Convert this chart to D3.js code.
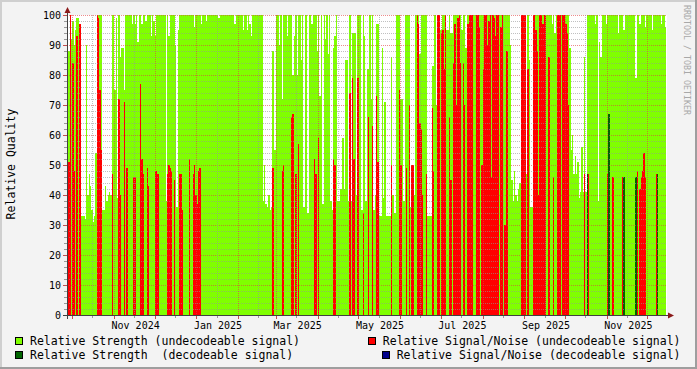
<!DOCTYPE html>
<html>
<head>
<meta charset="utf-8">
<script src="https://cdnjs.cloudflare.com/ajax/libs/d3/7.8.5/d3.min.js"></script>
<style>
  body { margin: 0; background: #f3f3f3; }
  svg { display: block; }
  text { font-family: "DejaVu Sans Mono", monospace; fill: #000; }
</style>
</head>
<body>
<script>
// one value per day from firstDay on, 0 = nothing recorded that day
const firstDay = new Date(Date.UTC(2024, 8, 27, 4));
const lastTime = new Date(Date.UTC(2025, 11, 15, 14, 40));

const strengthUndecodeable = [
  82,88,92,92,98,90,95,99,99,97,
  33,33,33,32,90,40,47,43,35,31,
  33,54,100,100,100,100,35,35,43,38,
  40,41,40,100,100,75,99,39,100,86,
  89,89,75,100,100,100,100,100,97,100,
  97,100,91,100,100,97,100,100,98,100,
  100,100,93,100,98,93,100,100,100,100,
  100,100,100,38,100,93,100,100,100,100,
  90,36,95,100,100,100,100,100,100,100,
  100,100,100,100,96,100,100,100,100,97,
  100,100,100,98,100,100,100,100,100,100,
  100,100,99,100,100,100,100,100,100,100,
  100,100,100,100,97,100,100,100,100,100,
  95,100,100,95,100,97,93,100,100,100,
  100,100,100,100,100,38,50,37,36,40,
  35,36,88,55,55,100,100,90,100,72,
  100,100,100,93,100,100,100,80,93,100,
  80,100,100,85,100,36,100,100,34,100,
  100,97,100,100,100,88,100,73,100,37,
  100,92,100,87,100,38,35,89,93,100,
  38,38,42,42,59,42,85,85,38,100,
  38,94,94,94,40,100,100,100,35,100,
  93,38,82,82,100,72,100,35,40,97,
  97,33,33,89,39,71,33,33,33,33,
  86,40,34,34,100,100,100,72,72,38,
  100,100,100,100,36,45,45,40,100,100,
  100,87,100,100,100,100,100,33,33,33,
  83,83,100,70,100,100,95,95,100,100,
  100,95,95,100,94,94,100,100,100,100,
  100,100,95,100,100,89,100,100,100,100,
  100,100,100,100,100,100,100,100,100,100,
  100,100,100,100,100,100,100,100,100,100,
  100,100,100,100,100,100,100,100,90,45,
  38,48,40,38,42,44,100,100,100,100,
  47,100,85,36,36,100,100,100,100,100,
  100,100,100,100,100,100,100,100,100,97,
  100,94,100,100,100,100,100,100,100,100,
  100,100,89,55,60,47,53,47,51,39,
  41,56,41,86,41,100,100,100,100,100,
  100,97,100,38,91,86,100,100,100,97,
  100,100,100,100,100,100,100,100,94,100,
  100,100,95,100,100,100,100,100,100,100,
  100,79,100,100,97,100,100,100,96,100,
  100,100,100,95,100,100,100,100,100,100,
  97,100,100,96
];

const snrUndecodeable = [
  57,51,100,0,84,48,0,93,0,97,
  0,0,0,0,0,0,0,0,0,0,
  0,0,100,99,75,55,0,0,0,0,
  0,0,0,47,0,0,0,0,72,40,
  0,0,71,0,49,0,0,0,0,46,
  46,0,0,0,77,52,47,0,0,49,
  43,0,0,0,0,48,48,47,0,0,
  0,0,0,0,47,50,49,48,0,45,
  0,0,0,47,47,35,0,0,0,0,
  52,0,0,47,50,40,37,48,49,0,
  0,0,0,0,0,0,0,0,0,0,
  0,0,0,0,0,0,0,0,0,0,
  0,0,0,0,0,0,0,0,0,0,
  0,0,0,0,0,0,0,0,0,0,
  0,0,0,0,0,0,0,0,0,0,
  0,0,49,0,0,0,0,0,0,48,
  50,0,0,0,0,0,66,67,0,47,
  0,57,0,0,0,0,0,0,0,0,
  0,0,0,52,47,0,59,0,0,0,
  0,0,0,0,0,0,0,52,50,0,
  0,0,0,0,0,0,0,0,0,74,
  0,79,52,0,0,79,0,0,0,34,
  0,0,0,66,0,0,63,0,0,73,
  51,0,0,0,0,0,0,0,0,0,
  50,0,0,0,0,0,75,50,0,0,
  0,49,0,70,0,50,50,0,0,100,
  97,64,62,40,0,0,47,0,0,0,
  69,48,0,0,100,100,0,94,95,82,
  100,0,0,66,45,0,84,97,70,99,
  100,84,0,84,70,0,97,97,100,100,
  100,0,0,100,100,96,0,50,82,100,
  100,90,98,100,46,100,99,93,100,100,
  0,96,100,0,30,88,88,0,0,0,
  0,0,0,0,0,0,100,100,100,100,
  0,82,0,0,0,100,100,95,88,40,
  100,100,97,100,100,0,86,86,0,0,
  46,0,0,100,100,100,0,100,100,97,
  94,70,0,0,0,0,0,0,0,0,
  0,0,0,47,0,0,47,0,0,0,
  0,0,0,0,0,0,0,0,0,0,
  47,0,0,0,46,0,0,0,0,0,
  0,46,0,0,0,0,0,0,0,0,
  0,0,48,0,42,46,48,54,46,0,
  0,0,0,0,0,0,47,0,0,0,
  0,0,0,0
];

// the decodeable series only show up on a few days
const strengthDecodeableDays = [385, 401, 412, 421, 437];
const strengthDecodeableValues = [47, 67, 46, 46, 47];
const snrDecodeableDays = [];
const snrDecodeableValues = [];

const labelMonths = ["2024-11", "2025-01", "2025-03", "2025-05", "2025-07", "2025-09", "2025-11"];
const legendLabels = [
    "Relative Strength (undecodeable signal)",
    "Relative Signal/Noise (undecodeable signal)",
    "Relative Strength  (decodeable signal)",
    "Relative Signal/Noise (decodeable signal)"
];
const seriesColors = ["#80ff00", "#ff0000", "#006400", "#00008b"];

const width = 697, height = 369;
const svg = d3.select("body").append("svg")
    .attr("width", width)
    .attr("height", height);

// background and 3d frame
svg.append("rect").attr("width", width).attr("height", height).attr("fill", "#f3f3f3");
svg.append("rect").attr("x", 0).attr("y", 0).attr("width", width).attr("height", 2).attr("fill", "#cfcfcf");
svg.append("rect").attr("x", 0).attr("y", 0).attr("width", 2).attr("height", height).attr("fill", "#cfcfcf");
svg.append("rect").attr("x", 0).attr("y", height - 2).attr("width", width).attr("height", 2).attr("fill", "#9e9e9e");
svg.append("rect").attr("x", width - 2).attr("y", 0).attr("width", 2).attr("height", height).attr("fill", "#9e9e9e");

const x = d3.scaleUtc().domain([firstDay, lastTime]).range([67, 667]);
const y = d3.scaleLinear().domain([0, 100]).range([315, 15]);

// canvas
svg.append("rect")
    .attr("x", 67).attr("y", 15)
    .attr("width", 600).attr("height", 300)
    .attr("fill", "#fff");

const dayX = i => Math.round(x(d3.utcDay.offset(firstDay, i)));

function drawSeries(days, values, color) {
    const rows = days.map((d, i) => ({day: d, v: values[i]})).filter(d => d.v > 0);
    svg.append("g")
        .attr("shape-rendering", "crispEdges")
        .selectAll("rect")
        .data(rows)
        .join("rect")
        .attr("x", d => dayX(d.day))
        .attr("width", d => Math.max(1, dayX(d.day + 1) - dayX(d.day)))
        .attr("y", d => y(d.v))
        .attr("height", d => y(0) - y(d.v))
        .attr("fill", color);
}

const allDays = d3.range(strengthUndecodeable.length);
drawSeries(allDays, strengthUndecodeable, seriesColors[0]);
drawSeries(allDays, snrUndecodeable, seriesColors[1]);
drawSeries(strengthDecodeableDays, strengthDecodeableValues, seriesColors[2]);
drawSeries(snrDecodeableDays, snrDecodeableValues, seriesColors[3]);

// grid on top of the areas, rrdtool style
const minorColor = "rgba(150,150,150,0.6)";
const majorColor = "rgba(224,64,64,0.6)";
const grid = svg.append("g").attr("shape-rendering", "crispEdges").attr("stroke-dasharray", "1,1");

const yMinor = d3.range(2, 101, 2).filter(v => v % 10 !== 0);
const yMajor = d3.range(10, 101, 10);
grid.selectAll(".hmin").data(yMinor).join("line")
    .attr("x1", 67).attr("x2", 667)
    .attr("y1", d => y(d) + 0.5).attr("y2", d => y(d) + 0.5)
    .attr("stroke", minorColor);
grid.selectAll(".hmaj").data(yMajor).join("line")
    .attr("x1", 67).attr("x2", 667)
    .attr("y1", d => y(d) + 0.5).attr("y2", d => y(d) + 0.5)
    .attr("stroke", majorColor);

const monthStarts = d3.utcMonth.range(firstDay, lastTime);
const midMonths = monthStarts.map(m => d3.utcDay.offset(m, 15)).filter(d => d < lastTime);
grid.selectAll(".vmin").data(midMonths).join("line")
    .attr("x1", d => Math.round(x(d)) + 0.5).attr("x2", d => Math.round(x(d)) + 0.5)
    .attr("y1", 15).attr("y2", 315)
    .attr("stroke", minorColor);
grid.selectAll(".vmaj").data(monthStarts).join("line")
    .attr("x1", d => Math.round(x(d)) + 0.5).attr("x2", d => Math.round(x(d)) + 0.5)
    .attr("y1", 15).attr("y2", 315)
    .attr("stroke", majorColor);

// tick marks outside the canvas
const ticks = svg.append("g").attr("shape-rendering", "crispEdges");
ticks.selectAll(".ty").data(yMinor).join("line")
    .attr("x1", 64).attr("x2", 67)
    .attr("y1", d => y(d) + 0.5).attr("y2", d => y(d) + 0.5)
    .attr("stroke", "#999");
ticks.selectAll(".tY").data(yMajor).join("line")
    .attr("x1", 63).attr("x2", 67)
    .attr("y1", d => y(d) + 0.5).attr("y2", d => y(d) + 0.5)
    .attr("stroke", "#c05050");
ticks.selectAll(".tx").data(midMonths).join("line")
    .attr("x1", d => Math.round(x(d)) + 0.5).attr("x2", d => Math.round(x(d)) + 0.5)
    .attr("y1", 315).attr("y2", 318)
    .attr("stroke", "#999");
ticks.selectAll(".tX").data(monthStarts).join("line")
    .attr("x1", d => Math.round(x(d)) + 0.5).attr("x2", d => Math.round(x(d)) + 0.5)
    .attr("y1", 315).attr("y2", 319)
    .attr("stroke", "#c05050");

// axes and arrows
svg.append("line").attr("x1", 63).attr("x2", 670).attr("y1", 315.5).attr("y2", 315.5)
    .attr("stroke", "#404040").attr("shape-rendering", "crispEdges");
svg.append("line").attr("x1", 67.5).attr("x2", 67.5).attr("y1", 319).attr("y2", 11)
    .attr("stroke", "#404040").attr("shape-rendering", "crispEdges");
svg.append("path").attr("d", "M668,312.5L674,315.5L668,318.5Z").attr("fill", "#8b1a1a");
svg.append("path").attr("d", "M64.5,13L67.5,7L70.5,13Z").attr("fill", "#8b1a1a");

// y labels
svg.append("g").selectAll("text").data(y.ticks(10)).join("text")
    .attr("x", 61)
    .attr("y", d => y(d) + 3.5)
    .attr("text-anchor", "end")
    .style("font-size", "10px")
    .text(d => d);

// x labels, centred in their month
const parseMonth = d3.utcParse("%Y-%m");
const fmtMonth = d3.utcFormat("%b %Y");
svg.append("g").selectAll("text").data(labelMonths.map(parseMonth)).join("text")
    .attr("x", d => x(d3.utcDay.offset(d, 16)))
    .attr("y", 328.5)
    .attr("text-anchor", "middle")
    .style("font-size", "10px")
    .text(d => fmtMonth(d));

// axis title
svg.append("text")
    .attr("transform", "translate(15,164) rotate(-90)")
    .attr("text-anchor", "middle")
    .style("font-size", "11.5px")
    .text("Relative Quality");

// watermark
svg.append("text")
    .attr("transform", "translate(684,5) rotate(90)")
    .style("font-size", "8.3px")
    .style("fill", "#a8a8a8")
    .text("RRDTOOL / TOBI OETIKER");

// legend: left column left aligned, right column right aligned
const legendRows = [345, 359];
legendLabels.forEach((label, i) => {
    const row = legendRows[i < 2 ? 0 : 1];
    const right = i % 2 === 1;
    const t = svg.append("text")
        .attr("y", row)
        .style("font-size", "11.5px")
        .style("white-space", "pre")
        .attr("xml:space", "preserve")
        .text(label);
    let textX;
    if (right) {
        const len = t.node().getComputedTextLength();
        textX = 680.5 - len;
    } else {
        textX = 30;
    }
    t.attr("x", textX);
    svg.append("rect")
        .attr("x", Math.round(textX - 15) + 0.5)
        .attr("y", row - 7.5)
        .attr("width", 7)
        .attr("height", 7)
        .attr("fill", seriesColors[i])
        .attr("stroke", "#000")
        .attr("shape-rendering", "crispEdges");
});
</script>
</body>
</html>
